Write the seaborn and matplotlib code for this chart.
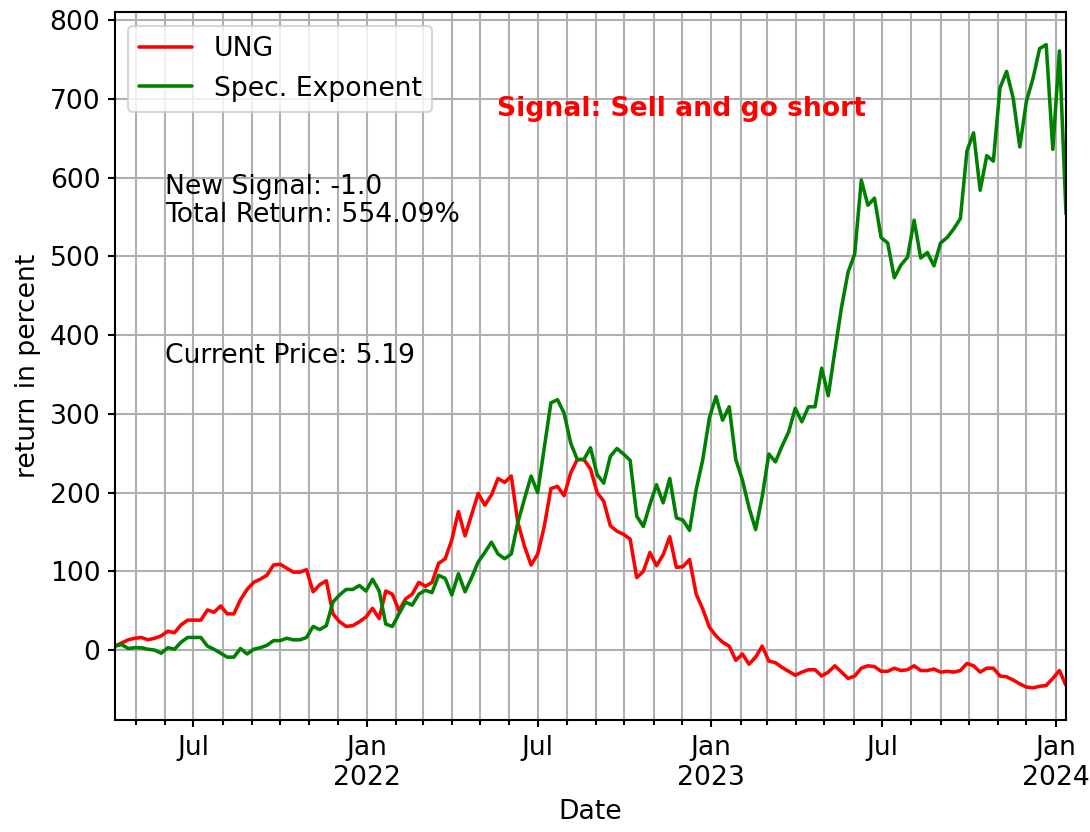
import numpy as np
import pandas as pd
import matplotlib
matplotlib.use("Agg")
import matplotlib.pyplot as plt
import matplotlib.dates as mdates
from matplotlib.ticker import FuncFormatter, MultipleLocator
import seaborn as sns

# ── data (weekly) ───────────────────────────────────────────
END_DATE = "2024-01-12"

ung = [
    5, 9, 13, 15, 16, 13, 15, 18, 24, 22,
    32, 38, 38, 38, 51, 48, 56, 46, 46, 64,
    77, 86, 90, 95, 108, 109, 104, 99, 99, 102,
    74, 83, 88, 46, 36, 30, 31, 36, 42, 53,
    40, 75, 71, 50, 65, 71, 86, 81, 86, 110,
    116, 140, 176, 145, 172, 199, 184, 197, 218, 213,
    221, 162, 132, 108, 122, 157, 205, 208, 196, 225,
    242, 242, 230, 200, 189, 158, 151, 147, 141, 92,
    100, 124, 107, 121, 144, 105, 106, 115, 71, 52,
    29, 18, 10, 5, -13, -5, -18, -9, 5, -14,
    -16, -22, -27, -32, -28, -25, -25, -33, -28, -20,
    -28, -36, -33, -23, -20, -21, -27, -27, -23, -26,
    -25, -20, -26, -26, -24, -28, -27, -28, -26, -17,
    -20, -28, -23, -23, -33, -34, -38, -43, -47, -48,
    -46, -45, -36, -26, -45,
]

spec_exp = [
    5, 7, 2, 3, 3, 1, 0, -4, 3, 1,
    10, 16, 16, 16, 5, 1, -4, -9, -9, 2,
    -5, 1, 3, 6, 12, 12, 15, 13, 13, 16,
    30, 26, 31, 61, 70, 77, 77, 82, 75, 90,
    75, 33, 30, 46, 61, 57, 71, 76, 73, 95,
    91, 70, 97, 74, 92, 112, 124, 137, 122, 116,
    122, 162, 192, 221, 200, 257, 314, 318, 301, 263,
    242, 242, 257, 223, 212, 246, 256, 249, 241, 170,
    157, 185, 210, 187, 218, 168, 165, 152, 204, 242,
    295, 322, 292, 309, 242, 216, 181, 153, 195, 249,
    239, 259, 277, 307, 290, 309, 309, 358, 323, 380,
    435, 480, 503, 597, 565, 574, 524, 517, 473, 489,
    499, 546, 498, 505, 488, 517, 524, 535, 548, 634,
    657, 584, 628, 621, 714, 735, 701, 639, 697, 726,
    764, 769, 636, 761, 554,
]

series_names = ["UNG", "Spec. Exponent"]
series_colors = {"UNG": "red", "Spec. Exponent": "green"}

new_signal = -1.0
total_return = 554.09
current_price = 5.19

dates = pd.date_range(end=END_DATE, periods=len(ung), freq="W-FRI")
df = pd.concat([
    pd.DataFrame({"Date": dates, "value": ung, "series": "UNG"}),
    pd.DataFrame({"Date": pd.date_range(end=END_DATE, periods=len(spec_exp), freq="W-FRI"),
                  "value": spec_exp, "series": "Spec. Exponent"}),
])

# ── style ───────────────────────────────────────────────────
sns.set_theme(style="ticks", rc={
    "axes.edgecolor": "black",
    "axes.linewidth": 1.0,
    "xtick.color": "black",
    "ytick.color": "black",
    "text.color": "black",
    "axes.labelcolor": "black",
})
plt.rcParams["font.family"] = ["DejaVu Sans"]
FS = 12.8

fig, ax = plt.subplots(figsize=(1090 / 150, 832 / 150), dpi=150)
fig.subplots_adjust(left=0.1055, right=0.978, bottom=0.1346, top=0.985)

sns.lineplot(data=df, x="Date", y="value", hue="series", hue_order=series_names,
             palette=series_colors, linewidth=1.7, ax=ax)

ax.set_xlim(dates[0], dates[-1])
ax.yaxis.set_major_locator(MultipleLocator(100))

ax.xaxis.set_major_locator(mdates.MonthLocator(bymonth=[1, 7]))
ax.xaxis.set_minor_locator(mdates.MonthLocator())


def month_fmt(x, pos):
    d = mdates.num2date(x)
    if d.month == 1:
        return f"Jan\n{d.year}"
    return d.strftime("%b")


ax.xaxis.set_major_formatter(FuncFormatter(month_fmt))
ax.tick_params(axis="both", labelsize=FS, width=1.0)
ax.tick_params(axis="y", which="major", length=3.5)
ax.tick_params(axis="x", which="major", length=3.5)
ax.tick_params(axis="x", which="minor", length=2.5)
for lbl in ax.get_xticklabels():
    lbl.set_ha("center")

ax.grid(True, axis="x", which="both", color="#b0b0b0", linewidth=1.0)
ax.grid(True, axis="y", which="major", color="#b0b0b0", linewidth=1.0)
ax.set_axisbelow(True)

ax.set_xlabel("Date", fontsize=FS)
ax.set_ylabel("return in percent", fontsize=FS)

handles, labels = ax.get_legend_handles_labels()
ax.legend(handles, labels, loc="upper left", fontsize=FS, frameon=True,
          fancybox=True, framealpha=0.8, edgecolor="#cccccc")

ax.text(0.402, 0.864, "Signal: Sell and go short", transform=ax.transAxes,
        color="red", fontsize=FS, fontweight="bold", va="center", ha="left")
ax.text(0.0526, 0.734, f"New Signal: {new_signal}\nTotal Return: {total_return:.2f}%",
        transform=ax.transAxes, fontsize=FS, va="center", ha="left", linespacing=1.1)
ax.text(0.0526, 0.514, f"Current Price: {current_price}", transform=ax.transAxes,
        fontsize=FS, va="center", ha="left")

plt.savefig("out.png", dpi=150, facecolor="white")
plt.close()
